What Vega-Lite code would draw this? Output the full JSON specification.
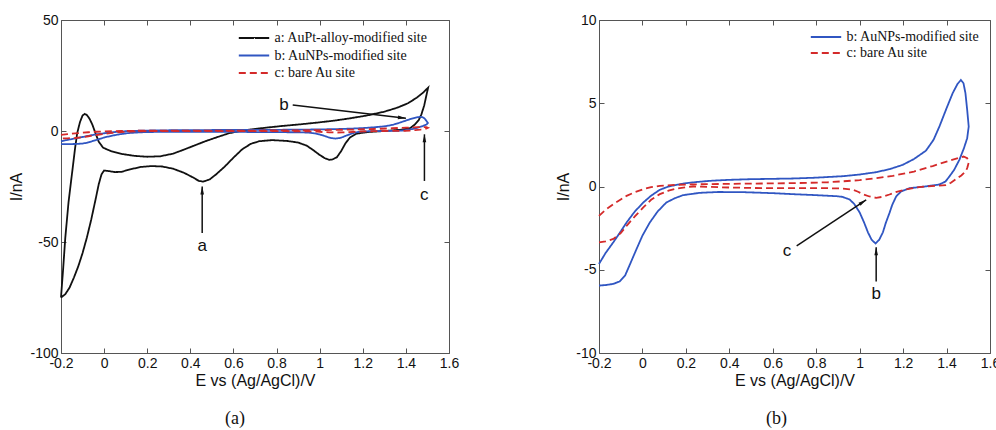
{
  "$schema": "https://vega.github.io/schema/vega-lite/v6.json",
  "background": "white",
  "padding": {"left": 8, "top": 12, "right": 0, "bottom": 0},
  "config": {
    "view": {"stroke": "#555", "strokeWidth": 1},
    "axis": {"labelFont": "Liberation Sans", "labelFontSize": 14, "labelColor": "#111", "titleFont": "Liberation Sans", "titleFontSize": 16, "titleFontWeight": "normal", "titleColor": "#111", "domain": false, "grid": false, "tickSize": -5, "tickColor": "#555", "labelFlush": false, "labelOverlap": false},
    "axisX": {"labelPadding": 8, "titlePadding": 2},
    "axisY": {"labelPadding": 8, "titlePadding": 6},
    "legend": {"labelFont": "Liberation Serif", "labelFontSize": 14, "labelColor": "#111", "symbolType": "M-1.9,0L1.9,0", "symbolSize": 256, "symbolStrokeWidth": 2, "symbolFillColor": "transparent", "rowPadding": 0, "labelOffset": 11.5, "padding": 0},
    "title": {"font": "Liberation Serif", "fontSize": 18, "fontWeight": "normal", "color": "#111"}
  },
  "datasets": {
    "cv": [
      {"s":"a: AuPt-alloy-modified site","E":-0.2,"I":-75},{"s":"a: AuPt-alloy-modified site","E":-0.19,"I":-62},{"s":"a: AuPt-alloy-modified site","E":-0.18,"I":-48},{"s":"a: AuPt-alloy-modified site","E":-0.165,"I":-32},{"s":"a: AuPt-alloy-modified site","E":-0.15,"I":-20},{"s":"a: AuPt-alloy-modified site","E":-0.135,"I":-8},{"s":"a: AuPt-alloy-modified site","E":-0.125,"I":-1},{"s":"a: AuPt-alloy-modified site","E":-0.112,"I":4},{"s":"a: AuPt-alloy-modified site","E":-0.1,"I":7},{"s":"a: AuPt-alloy-modified site","E":-0.09,"I":7.7},{"s":"a: AuPt-alloy-modified site","E":-0.08,"I":7.2},{"s":"a: AuPt-alloy-modified site","E":-0.068,"I":5.6},{"s":"a: AuPt-alloy-modified site","E":-0.055,"I":3},{"s":"a: AuPt-alloy-modified site","E":-0.04,"I":-1},{"s":"a: AuPt-alloy-modified site","E":-0.025,"I":-4.8},{"s":"a: AuPt-alloy-modified site","E":-0.005,"I":-7.5},{"s":"a: AuPt-alloy-modified site","E":0.03,"I":-9},{"s":"a: AuPt-alloy-modified site","E":0.08,"I":-10.3},{"s":"a: AuPt-alloy-modified site","E":0.14,"I":-11.2},{"s":"a: AuPt-alloy-modified site","E":0.2,"I":-11.6},{"s":"a: AuPt-alloy-modified site","E":0.26,"I":-11.4},{"s":"a: AuPt-alloy-modified site","E":0.32,"I":-10.2},{"s":"a: AuPt-alloy-modified site","E":0.37,"I":-8.4},{"s":"a: AuPt-alloy-modified site","E":0.42,"I":-6.5},{"s":"a: AuPt-alloy-modified site","E":0.47,"I":-4.6},{"s":"a: AuPt-alloy-modified site","E":0.53,"I":-2.6},{"s":"a: AuPt-alloy-modified site","E":0.58,"I":-1},{"s":"a: AuPt-alloy-modified site","E":0.63,"I":0},{"s":"a: AuPt-alloy-modified site","E":0.68,"I":0.7},{"s":"a: AuPt-alloy-modified site","E":0.76,"I":1.6},{"s":"a: AuPt-alloy-modified site","E":0.83,"I":2.3},{"s":"a: AuPt-alloy-modified site","E":0.91,"I":3},{"s":"a: AuPt-alloy-modified site","E":0.99,"I":3.8},{"s":"a: AuPt-alloy-modified site","E":1.07,"I":4.7},{"s":"a: AuPt-alloy-modified site","E":1.14,"I":5.7},{"s":"a: AuPt-alloy-modified site","E":1.22,"I":7},{"s":"a: AuPt-alloy-modified site","E":1.3,"I":8.7},{"s":"a: AuPt-alloy-modified site","E":1.36,"I":10.5},{"s":"a: AuPt-alloy-modified site","E":1.41,"I":12.5},{"s":"a: AuPt-alloy-modified site","E":1.45,"I":15},{"s":"a: AuPt-alloy-modified site","E":1.48,"I":17.3},{"s":"a: AuPt-alloy-modified site","E":1.503,"I":19.5},{"s":"a: AuPt-alloy-modified site","E":1.495,"I":16},{"s":"a: AuPt-alloy-modified site","E":1.485,"I":11.5},{"s":"a: AuPt-alloy-modified site","E":1.472,"I":7.5},{"s":"a: AuPt-alloy-modified site","E":1.46,"I":5},{"s":"a: AuPt-alloy-modified site","E":1.44,"I":2.8},{"s":"a: AuPt-alloy-modified site","E":1.42,"I":1.3},{"s":"a: AuPt-alloy-modified site","E":1.38,"I":0.6},{"s":"a: AuPt-alloy-modified site","E":1.3,"I":0},{"s":"a: AuPt-alloy-modified site","E":1.22,"I":-0.5},{"s":"a: AuPt-alloy-modified site","E":1.17,"I":-1.2},{"s":"a: AuPt-alloy-modified site","E":1.14,"I":-3},{"s":"a: AuPt-alloy-modified site","E":1.12,"I":-5.5},{"s":"a: AuPt-alloy-modified site","E":1.1,"I":-9},{"s":"a: AuPt-alloy-modified site","E":1.08,"I":-11.8},{"s":"a: AuPt-alloy-modified site","E":1.06,"I":-12.8},{"s":"a: AuPt-alloy-modified site","E":1.045,"I":-13},{"s":"a: AuPt-alloy-modified site","E":1.025,"I":-12.3},{"s":"a: AuPt-alloy-modified site","E":1.0,"I":-10.8},{"s":"a: AuPt-alloy-modified site","E":0.97,"I":-8.6},{"s":"a: AuPt-alloy-modified site","E":0.94,"I":-6.6},{"s":"a: AuPt-alloy-modified site","E":0.9,"I":-5.2},{"s":"a: AuPt-alloy-modified site","E":0.85,"I":-4.5},{"s":"a: AuPt-alloy-modified site","E":0.78,"I":-4.1},{"s":"a: AuPt-alloy-modified site","E":0.72,"I":-4.6},{"s":"a: AuPt-alloy-modified site","E":0.68,"I":-5.8},{"s":"a: AuPt-alloy-modified site","E":0.64,"I":-8.3},{"s":"a: AuPt-alloy-modified site","E":0.6,"I":-12},{"s":"a: AuPt-alloy-modified site","E":0.56,"I":-16},{"s":"a: AuPt-alloy-modified site","E":0.52,"I":-19.5},{"s":"a: AuPt-alloy-modified site","E":0.49,"I":-21.8},{"s":"a: AuPt-alloy-modified site","E":0.46,"I":-22.8},{"s":"a: AuPt-alloy-modified site","E":0.44,"I":-22.5},{"s":"a: AuPt-alloy-modified site","E":0.41,"I":-20.8},{"s":"a: AuPt-alloy-modified site","E":0.37,"I":-18.8},{"s":"a: AuPt-alloy-modified site","E":0.32,"I":-17},{"s":"a: AuPt-alloy-modified site","E":0.27,"I":-16},{"s":"a: AuPt-alloy-modified site","E":0.22,"I":-15.8},{"s":"a: AuPt-alloy-modified site","E":0.17,"I":-16.2},{"s":"a: AuPt-alloy-modified site","E":0.12,"I":-17.3},{"s":"a: AuPt-alloy-modified site","E":0.08,"I":-18.4},{"s":"a: AuPt-alloy-modified site","E":0.05,"I":-18.5},{"s":"a: AuPt-alloy-modified site","E":0.025,"I":-18.1},{"s":"a: AuPt-alloy-modified site","E":0.0,"I":-17.8},{"s":"a: AuPt-alloy-modified site","E":-0.012,"I":-19.5},{"s":"a: AuPt-alloy-modified site","E":-0.025,"I":-24},{"s":"a: AuPt-alloy-modified site","E":-0.04,"I":-31},{"s":"a: AuPt-alloy-modified site","E":-0.06,"I":-40},{"s":"a: AuPt-alloy-modified site","E":-0.08,"I":-48},{"s":"a: AuPt-alloy-modified site","E":-0.1,"I":-55},{"s":"a: AuPt-alloy-modified site","E":-0.12,"I":-61},{"s":"a: AuPt-alloy-modified site","E":-0.14,"I":-66},{"s":"a: AuPt-alloy-modified site","E":-0.16,"I":-70.5},{"s":"a: AuPt-alloy-modified site","E":-0.18,"I":-73.5},{"s":"a: AuPt-alloy-modified site","E":-0.2,"I":-75},

      {"s":"b: AuNPs-modified site","E":-0.2,"I":-4.65},{"s":"b: AuNPs-modified site","E":-0.17,"I":-4.0},{"s":"b: AuNPs-modified site","E":-0.134,"I":-3.35},{"s":"b: AuNPs-modified site","E":-0.1,"I":-2.7},{"s":"b: AuNPs-modified site","E":-0.073,"I":-2.16},{"s":"b: AuNPs-modified site","E":-0.035,"I":-1.5},{"s":"b: AuNPs-modified site","E":0.004,"I":-0.96},{"s":"b: AuNPs-modified site","E":0.04,"I":-0.55},{"s":"b: AuNPs-modified site","E":0.08,"I":-0.2},{"s":"b: AuNPs-modified site","E":0.12,"I":0.0},{"s":"b: AuNPs-modified site","E":0.157,"I":0.1},{"s":"b: AuNPs-modified site","E":0.2,"I":0.2},{"s":"b: AuNPs-modified site","E":0.25,"I":0.27},{"s":"b: AuNPs-modified site","E":0.31,"I":0.34},{"s":"b: AuNPs-modified site","E":0.4,"I":0.4},{"s":"b: AuNPs-modified site","E":0.5,"I":0.44},{"s":"b: AuNPs-modified site","E":0.6,"I":0.46},{"s":"b: AuNPs-modified site","E":0.693,"I":0.48},{"s":"b: AuNPs-modified site","E":0.8,"I":0.53},{"s":"b: AuNPs-modified site","E":0.923,"I":0.62},{"s":"b: AuNPs-modified site","E":1.0,"I":0.72},{"s":"b: AuNPs-modified site","E":1.076,"I":0.86},{"s":"b: AuNPs-modified site","E":1.14,"I":1.05},{"s":"b: AuNPs-modified site","E":1.198,"I":1.3},{"s":"b: AuNPs-modified site","E":1.25,"I":1.65},{"s":"b: AuNPs-modified site","E":1.305,"I":2.15},{"s":"b: AuNPs-modified site","E":1.34,"I":2.8},{"s":"b: AuNPs-modified site","E":1.367,"I":3.6},{"s":"b: AuNPs-modified site","E":1.4,"I":4.7},{"s":"b: AuNPs-modified site","E":1.428,"I":5.6},{"s":"b: AuNPs-modified site","E":1.45,"I":6.15},{"s":"b: AuNPs-modified site","E":1.466,"I":6.4},{"s":"b: AuNPs-modified site","E":1.478,"I":6.2},{"s":"b: AuNPs-modified site","E":1.487,"I":5.6},{"s":"b: AuNPs-modified site","E":1.495,"I":4.6},{"s":"b: AuNPs-modified site","E":1.502,"I":3.6},{"s":"b: AuNPs-modified site","E":1.495,"I":2.9},{"s":"b: AuNPs-modified site","E":1.48,"I":2.3},{"s":"b: AuNPs-modified site","E":1.459,"I":1.6},{"s":"b: AuNPs-modified site","E":1.435,"I":1.0},{"s":"b: AuNPs-modified site","E":1.413,"I":0.6},{"s":"b: AuNPs-modified site","E":1.395,"I":0.3},{"s":"b: AuNPs-modified site","E":1.367,"I":0.12},{"s":"b: AuNPs-modified site","E":1.3,"I":0.0},{"s":"b: AuNPs-modified site","E":1.23,"I":-0.1},{"s":"b: AuNPs-modified site","E":1.19,"I":-0.3},{"s":"b: AuNPs-modified site","E":1.168,"I":-0.6},{"s":"b: AuNPs-modified site","E":1.15,"I":-1.1},{"s":"b: AuNPs-modified site","E":1.137,"I":-1.6},{"s":"b: AuNPs-modified site","E":1.12,"I":-2.2},{"s":"b: AuNPs-modified site","E":1.107,"I":-2.75},{"s":"b: AuNPs-modified site","E":1.09,"I":-3.2},{"s":"b: AuNPs-modified site","E":1.073,"I":-3.42},{"s":"b: AuNPs-modified site","E":1.055,"I":-3.2},{"s":"b: AuNPs-modified site","E":1.038,"I":-2.75},{"s":"b: AuNPs-modified site","E":1.02,"I":-2.15},{"s":"b: AuNPs-modified site","E":1.0,"I":-1.56},{"s":"b: AuNPs-modified site","E":0.975,"I":-1.05},{"s":"b: AuNPs-modified site","E":0.954,"I":-0.78},{"s":"b: AuNPs-modified site","E":0.92,"I":-0.62},{"s":"b: AuNPs-modified site","E":0.892,"I":-0.58},{"s":"b: AuNPs-modified site","E":0.8,"I":-0.52},{"s":"b: AuNPs-modified site","E":0.693,"I":-0.46},{"s":"b: AuNPs-modified site","E":0.6,"I":-0.4},{"s":"b: AuNPs-modified site","E":0.463,"I":-0.34},{"s":"b: AuNPs-modified site","E":0.35,"I":-0.33},{"s":"b: AuNPs-modified site","E":0.264,"I":-0.38},{"s":"b: AuNPs-modified site","E":0.187,"I":-0.52},{"s":"b: AuNPs-modified site","E":0.15,"I":-0.7},{"s":"b: AuNPs-modified site","E":0.11,"I":-0.96},{"s":"b: AuNPs-modified site","E":0.07,"I":-1.5},{"s":"b: AuNPs-modified site","E":0.034,"I":-2.16},{"s":"b: AuNPs-modified site","E":0.0,"I":-2.95},{"s":"b: AuNPs-modified site","E":-0.027,"I":-3.75},{"s":"b: AuNPs-modified site","E":-0.055,"I":-4.6},{"s":"b: AuNPs-modified site","E":-0.08,"I":-5.35},{"s":"b: AuNPs-modified site","E":-0.105,"I":-5.7},{"s":"b: AuNPs-modified site","E":-0.134,"I":-5.85},{"s":"b: AuNPs-modified site","E":-0.17,"I":-5.92},{"s":"b: AuNPs-modified site","E":-0.2,"I":-5.95},

      {"s":"c: bare Au site","E":-0.2,"I":-1.76},{"s":"c: bare Au site","E":-0.17,"I":-1.4},{"s":"c: bare Au site","E":-0.134,"I":-1.06},{"s":"c: bare Au site","E":-0.1,"I":-0.78},{"s":"c: bare Au site","E":-0.073,"I":-0.56},{"s":"c: bare Au site","E":-0.035,"I":-0.34},{"s":"c: bare Au site","E":0.004,"I":-0.16},{"s":"c: bare Au site","E":0.04,"I":-0.04},{"s":"c: bare Au site","E":0.08,"I":0.04},{"s":"c: bare Au site","E":0.15,"I":0.1},{"s":"c: bare Au site","E":0.233,"I":0.13},{"s":"c: bare Au site","E":0.4,"I":0.16},{"s":"c: bare Au site","E":0.55,"I":0.18},{"s":"c: bare Au site","E":0.693,"I":0.2},{"s":"c: bare Au site","E":0.85,"I":0.25},{"s":"c: bare Au site","E":1.0,"I":0.38},{"s":"c: bare Au site","E":1.076,"I":0.5},{"s":"c: bare Au site","E":1.152,"I":0.64},{"s":"c: bare Au site","E":1.25,"I":0.9},{"s":"c: bare Au site","E":1.336,"I":1.23},{"s":"c: bare Au site","E":1.4,"I":1.5},{"s":"c: bare Au site","E":1.459,"I":1.73},{"s":"c: bare Au site","E":1.478,"I":1.8},{"s":"c: bare Au site","E":1.495,"I":1.7},{"s":"c: bare Au site","E":1.502,"I":1.43},{"s":"c: bare Au site","E":1.496,"I":1.15},{"s":"c: bare Au site","E":1.49,"I":0.94},{"s":"c: bare Au site","E":1.468,"I":0.66},{"s":"c: bare Au site","E":1.443,"I":0.44},{"s":"c: bare Au site","E":1.42,"I":0.22},{"s":"c: bare Au site","E":1.397,"I":0.08},{"s":"c: bare Au site","E":1.3,"I":0.0},{"s":"c: bare Au site","E":1.25,"I":-0.08},{"s":"c: bare Au site","E":1.214,"I":-0.18},{"s":"c: bare Au site","E":1.17,"I":-0.32},{"s":"c: bare Au site","E":1.137,"I":-0.48},{"s":"c: bare Au site","E":1.105,"I":-0.62},{"s":"c: bare Au site","E":1.076,"I":-0.68},{"s":"c: bare Au site","E":1.045,"I":-0.6},{"s":"c: bare Au site","E":1.015,"I":-0.46},{"s":"c: bare Au site","E":0.99,"I":-0.3},{"s":"c: bare Au site","E":0.969,"I":-0.2},{"s":"c: bare Au site","E":0.92,"I":-0.12},{"s":"c: bare Au site","E":0.846,"I":-0.1},{"s":"c: bare Au site","E":0.693,"I":-0.1},{"s":"c: bare Au site","E":0.55,"I":-0.1},{"s":"c: bare Au site","E":0.4,"I":-0.06},{"s":"c: bare Au site","E":0.3,"I":-0.02},{"s":"c: bare Au site","E":0.233,"I":0.0},{"s":"c: bare Au site","E":0.157,"I":-0.12},{"s":"c: bare Au site","E":0.12,"I":-0.25},{"s":"c: bare Au site","E":0.08,"I":-0.46},{"s":"c: bare Au site","E":0.04,"I":-0.8},{"s":"c: bare Au site","E":0.004,"I":-1.26},{"s":"c: bare Au site","E":-0.035,"I":-1.8},{"s":"c: bare Au site","E":-0.073,"I":-2.36},{"s":"c: bare Au site","E":-0.1,"I":-2.8},{"s":"c: bare Au site","E":-0.134,"I":-3.15},{"s":"c: bare Au site","E":-0.17,"I":-3.3},{"s":"c: bare Au site","E":-0.2,"I":-3.35}
    ],
    "notes": [
      {"panel":"a","label":"b","lx":0.835,"ly":11.7,"x1":0.875,"y1":11.7,"x2":1.4,"y2":5.7,"dir":96.8},
      {"panel":"a","label":"c","lx":1.485,"ly":-29,"x1":1.486,"y1":-22.5,"x2":1.486,"y2":-1.5,"dir":0},
      {"panel":"a","label":"a","lx":0.455,"ly":-52,"x1":0.455,"y1":-46,"x2":0.455,"y2":-25,"dir":0},
      {"panel":"b","label":"c","lx":0.665,"ly":-3.85,"x1":0.71,"y1":-3.56,"x2":1.03,"y2":-0.8,"dir":56},
      {"panel":"b","label":"b","lx":1.076,"ly":-6.45,"x1":1.076,"y1":-5.7,"x2":1.076,"y2":-3.65,"dir":0}
    ]
  },
  "spacing": 95,
  "resolve": {"scale": {"x": "independent", "y": "independent", "color": "independent", "strokeDash": "independent"}, "legend": {"color": "independent", "strokeDash": "independent"}},
  "hconcat": [
    {
      "width": 388, "height": 333,
      "title": {"text": "(a)", "orient": "bottom", "dx": -20, "offset": 22},
      "resolve": {"axis": {"x": "independent", "y": "independent"}},
      "layer": [
        {
          "data": {"name": "cv"},
          "mark": {"type": "line", "strokeWidth": 1.8},
          "encoding": {
            "x": {"field": "E", "type": "quantitative", "scale": {"domain": [-0.2, 1.6], "nice": false, "zero": false}, "axis": {"orient": "bottom", "values": [-0.2, 0, 0.2, 0.4, 0.6, 0.8, 1, 1.2, 1.4, 1.6], "labelExpr": "'' + datum.value", "title": "E vs (Ag/AgCl)/V"}},
            "y": {"field": "I", "type": "quantitative", "scale": {"domain": [-100, 50], "nice": false, "zero": false}, "axis": {"orient": "left", "values": [-100, -50, 0, 50], "labelExpr": "'' + datum.value", "title": "I/nA", "titlePadding": 5}},
            "color": {"field": "s", "type": "nominal", "scale": {"domain": ["a: AuPt-alloy-modified site", "b: AuNPs-modified site", "c: bare Au site"], "range": ["#111111", "#3056c2", "#d42a2a"]}, "legend": {"title": null, "orient": "none", "legendX": 184, "legendY": 9, "rowPadding": 1.5}},
            "strokeDash": {"field": "s", "type": "nominal", "scale": {"domain": ["a: AuPt-alloy-modified site", "b: AuNPs-modified site", "c: bare Au site"], "range": [[1, 0], [1, 0], [7, 4]]}, "legend": {"title": null, "orient": "none", "legendX": 184, "legendY": 9, "rowPadding": 1.5}},
            "order": {"value": null}
          }
        },
        {
          "data": {"name": "cv"},
          "mark": {"type": "point", "opacity": 0},
          "encoding": {
            "x": {"field": "E", "type": "quantitative", "axis": {"orient": "top", "values": [-0.2, 0, 0.2, 0.4, 0.6, 0.8, 1, 1.2, 1.4, 1.6], "labels": false, "title": null}},
            "y": {"field": "I", "type": "quantitative", "axis": {"orient": "right", "values": [-100, -50, 0, 50], "labels": false, "title": null}}
          }
        },
        {
          "data": {"name": "notes"},
          "transform": [{"filter": "datum.panel == 'a'"}],
          "mark": {"type": "rule", "color": "#111", "strokeWidth": 1.5},
          "encoding": {
            "x": {"field": "x1", "type": "quantitative", "axis": null},
            "y": {"field": "y1", "type": "quantitative", "axis": null},
            "x2": {"field": "x2"},
            "y2": {"field": "y2"}
          }
        },
        {
          "data": {"name": "notes"},
          "transform": [{"filter": "datum.panel == 'a'"}],
          "mark": {"type": "point", "shape": "M0,0L0.45,2L-0.45,2Z", "filled": true, "color": "#111", "size": 64, "opacity": 1},
          "encoding": {
            "x": {"field": "x2", "type": "quantitative", "axis": null},
            "y": {"field": "y2", "type": "quantitative", "axis": null},
            "angle": {"field": "dir", "type": "quantitative", "scale": null}
          }
        },
        {
          "data": {"name": "notes"},
          "transform": [{"filter": "datum.panel == 'a'"}],
          "mark": {"type": "text", "font": "Liberation Sans", "fontSize": 17, "color": "#111", "align": "center", "baseline": "middle"},
          "encoding": {
            "x": {"field": "lx", "type": "quantitative", "axis": null},
            "y": {"field": "ly", "type": "quantitative", "axis": null},
            "text": {"field": "label"}
          }
        }
      ]
    },
    {
      "width": 391, "height": 333,
      "title": {"text": "(b)", "orient": "bottom", "dx": -18, "offset": 22},
      "resolve": {"axis": {"x": "independent", "y": "independent"}},
      "layer": [
        {
          "data": {"name": "cv"},
          "transform": [{"filter": "substring(datum.s, 0, 1) != 'a'"}],
          "mark": {"type": "line", "strokeWidth": 1.8},
          "encoding": {
            "x": {"field": "E", "type": "quantitative", "scale": {"domain": [-0.2, 1.6], "nice": false, "zero": false}, "axis": {"orient": "bottom", "values": [-0.2, 0, 0.2, 0.4, 0.6, 0.8, 1, 1.2, 1.4, 1.6], "labelExpr": "'' + datum.value", "title": "E vs (Ag/AgCl)/V"}},
            "y": {"field": "I", "type": "quantitative", "scale": {"domain": [-10, 10], "nice": false, "zero": false}, "axis": {"orient": "left", "values": [-10, -5, 0, 5, 10], "labelExpr": "'' + datum.value", "title": "I/nA", "titlePadding": 4}},
            "color": {"field": "s", "type": "nominal", "scale": {"domain": ["b: AuNPs-modified site", "c: bare Au site"], "range": ["#3056c2", "#d42a2a"]}, "legend": {"title": null, "orient": "none", "legendX": 218, "legendY": 8}},
            "strokeDash": {"field": "s", "type": "nominal", "scale": {"domain": ["b: AuNPs-modified site", "c: bare Au site"], "range": [[1, 0], [7, 4]]}, "legend": {"title": null, "orient": "none", "legendX": 218, "legendY": 8}},
            "order": {"value": null}
          }
        },
        {
          "data": {"name": "cv"},
          "transform": [{"filter": "substring(datum.s, 0, 1) != 'a'"}],
          "mark": {"type": "point", "opacity": 0},
          "encoding": {
            "x": {"field": "E", "type": "quantitative", "axis": {"orient": "top", "values": [-0.2, 0, 0.2, 0.4, 0.6, 0.8, 1, 1.2, 1.4, 1.6], "labels": false, "title": null}},
            "y": {"field": "I", "type": "quantitative", "axis": {"orient": "right", "values": [-10, -5, 0, 5, 10], "labels": false, "title": null}}
          }
        },
        {
          "data": {"name": "notes"},
          "transform": [{"filter": "datum.panel == 'b'"}],
          "mark": {"type": "rule", "color": "#111", "strokeWidth": 1.5},
          "encoding": {
            "x": {"field": "x1", "type": "quantitative", "axis": null},
            "y": {"field": "y1", "type": "quantitative", "axis": null},
            "x2": {"field": "x2"},
            "y2": {"field": "y2"}
          }
        },
        {
          "data": {"name": "notes"},
          "transform": [{"filter": "datum.panel == 'b'"}],
          "mark": {"type": "point", "shape": "M0,0L0.45,2L-0.45,2Z", "filled": true, "color": "#111", "size": 64, "opacity": 1},
          "encoding": {
            "x": {"field": "x2", "type": "quantitative", "axis": null},
            "y": {"field": "y2", "type": "quantitative", "axis": null},
            "angle": {"field": "dir", "type": "quantitative", "scale": null}
          }
        },
        {
          "data": {"name": "notes"},
          "transform": [{"filter": "datum.panel == 'b'"}],
          "mark": {"type": "text", "font": "Liberation Sans", "fontSize": 17, "color": "#111", "align": "center", "baseline": "middle"},
          "encoding": {
            "x": {"field": "lx", "type": "quantitative", "axis": null},
            "y": {"field": "ly", "type": "quantitative", "axis": null},
            "text": {"field": "label"}
          }
        }
      ]
    }
  ]
}
